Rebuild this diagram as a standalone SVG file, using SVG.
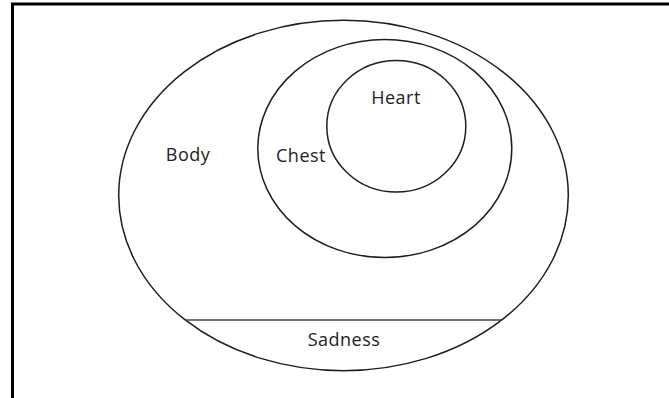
<svg xmlns="http://www.w3.org/2000/svg" width="669" height="398" viewBox="0 0 669 398">
  <style>
    .shape { fill: none; stroke: #1e1e1e; stroke-width: 1.5; }
    .label { font-family: "Open Sans", "Noto Sans", "Liberation Sans", sans-serif; font-size: 18px; letter-spacing: 0.5px; fill: #222; text-anchor: middle; }
  </style>
  <rect x="0" y="0" width="669" height="398" fill="#ffffff"/>
  <g id="frame">
    <path d="M12.5 398 V4 H669" fill="none" stroke="#000" stroke-width="3"/>
  </g>
  <g id="body">
    <ellipse class="shape" cx="343.5" cy="195.5" rx="224.8" ry="175.2"/>
    <text class="label" x="188" y="161">Body</text>
  </g>
  <g id="chest">
    <ellipse class="shape" cx="384.8" cy="148.5" rx="127" ry="109"/>
    <text class="label" x="301" y="162">Chest</text>
  </g>
  <g id="heart">
    <ellipse class="shape" cx="396.3" cy="126.2" rx="69.5" ry="65.8"/>
    <text class="label" x="396" y="104">Heart</text>
  </g>
  <g id="sadness">
    <line x1="185.5" y1="320" x2="501.5" y2="320" stroke="#444" stroke-width="1.6"/>
    <text class="label" x="344" y="346">Sadness</text>
  </g>
  <g id="connectors"></g>
</svg>
